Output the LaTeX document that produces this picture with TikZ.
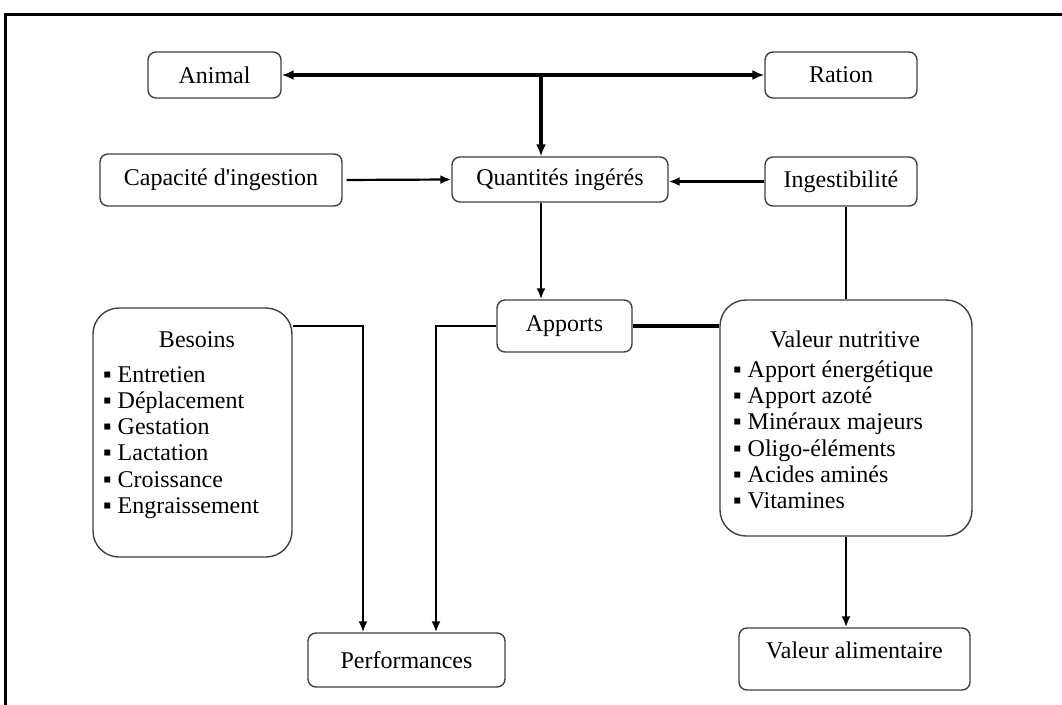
\documentclass[tikz,border=0pt]{standalone}
\usepackage{fontspec}
\setmainfont{Liberation Serif}
\usetikzlibrary{arrows.meta, calc}
\tikzset{
  box/.style={draw=black!75, line width=1.4pt, rounded corners=8pt, align=center, inner sep=0pt},
  bigbox/.style={draw=black!75, line width=1.4pt, rounded corners=26pt, inner sep=0pt},
  title/.style={anchor=base, inner sep=0pt},
  itemlist/.style={align=left, anchor=north west, inner sep=0pt},
  arrow/.style={-{Latex[length=11pt, width=9pt]}, line width=2.2pt},
  heavy/.style={line width=3.4pt},
  link/.style={line width=1.6pt},
  frame/.style={line width=3pt},
  every node/.style={font=\fontsize{24}{26.3}\selectfont}
}

\begin{document}
\begin{tikzpicture}[x=1pt, y=-1pt]
    \useasboundingbox (0,0) rectangle (1062,704);
    \draw[frame] (5,720) -- (5,14) -- (1080,14);

    \node[box, minimum width=133pt, minimum height=46pt] (animal) at (214.5,75) {Animal};
    \node[box, minimum width=152pt, minimum height=46pt] (ration) at (841,75) {Ration};
    \node[box, minimum width=242pt, minimum height=52pt] (capacite) at (221,180) {Capacité d\textquotesingle ingestion};
    \node[box, minimum width=216pt, minimum height=45pt] (quant) at (560,179.5) {Quantités ingérés};
    \node[box, minimum width=152pt, minimum height=49pt] (ingest) at (841,181.5) {Ingestibilité};
    \node[box, minimum width=135pt, minimum height=52pt] (apports) at (564.5,326) {Apports};
    \node[bigbox, minimum width=199pt, minimum height=249pt] (besoins) at (192.5,432.5) {};
    \node[bigbox, minimum width=252pt, minimum height=236pt] (valnut) at (846,418) {};
    \node[box, minimum width=197pt, minimum height=54pt] (perf) at (406.5,660) {Performances};
    \node[box, minimum width=231pt, minimum height=62pt, text height=16pt, text depth=18pt] (valalim) at (854.5,659) {Valeur alimentaire};

    % contenu des deux grands blocs
    \node[title] (besoinsT) at (197,347) {Besoins};
    \node[itemlist] (besoinsL) at (103,366) {▪ Entretien\\▪ Déplacement\\▪ Gestation\\▪ Lactation\\▪ Croissance\\▪ Engraissement};
    \node[title] (valnutT) at (845,347) {Valeur nutritive};
    \node[itemlist] (valnutL) at (733,360.5) {▪ Apport énergétique\\▪ Apport azoté\\▪ Minéraux majeurs\\▪ Oligo-éléments\\▪ Acides aminés\\▪ Vitamines};

    \coordinate (junc) at (541,75);

    \draw[heavy, {Latex[length=12pt, width=10pt]}-{Latex[length=12pt, width=10pt]}] (animal.east) -- (ration.west);
    \draw[heavy, -{Latex[length=12pt, width=10pt]}] (junc) -- (junc |- quant.north);
    \draw[arrow, shorten <=4pt] (capacite.east) -- (quant.west);
    \draw[arrow] (ingest.west) -- (ingest.west -| quant.east);
    \draw[link] (valnut.north) -- (valnut.north |- ingest.south);
    \draw[arrow] (junc |- quant.south) -- (junc |- apports.north);
    \draw[heavy] (apports.east) -- (apports.east -| valnut.west);
    \draw[arrow] (apports.west) -| ($(perf.north)+(29.5,0)$);
    \draw[arrow] (besoins.east |- apports.west) -| ($(perf.north)+(-43.5,0)$);
    \draw[arrow] (valnut.south) -- (valnut.south |- valalim.north);
\end{tikzpicture}
\end{document}
